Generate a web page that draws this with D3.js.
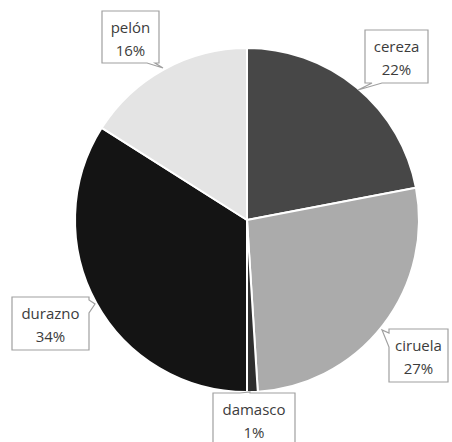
<!DOCTYPE html>
<html><head><meta charset="utf-8">
<script src="https://cdn.jsdelivr.net/npm/d3@7"></script>
<style>body{margin:0;background:#fff}svg{display:block}</style>
</head><body>
<script>
const categories = ["cereza","ciruela","damasco","durazno","pelón"];
const values = [22,27,1,34,16];
const labels = ["22%","27%","1%","34%","16%"];
const colors = ["#474747","#ababab","#2e2e2e","#141414","#e4e4e4"];

// callout layout: box x,y,w,h ; side where pointer attaches; two base points along side; tip
const callouts = [
  {x:365,y:30,w:63,h:53, side:"bottom", a:372, b:382, tip:[358,90]},
  {x:389,y:329,w:59,h:53, side:"left", a:333, b:347, tip:[382,330]},
  {x:213,y:393,w:82,h:60, side:"top", a:240, b:250, tip:[250,392]},
  {x:12,y:297,w:77,h:53, side:"right", a:300, b:313, tip:[95,304]},
  {x:102,y:11,w:57,h:52, side:"bottom", a:147, b:155, tip:[163,68]}
];

const W=452,H=442, cx=247, cy=220, R=172;
const svg=d3.select("body").append("svg").attr("width",W).attr("height",H);
const pie=d3.pie().sort(null).value(d=>d)(values);
const arc=d3.arc().innerRadius(0).outerRadius(R);
const g=svg.append("g").attr("transform",`translate(${cx},${cy})`);
g.selectAll("path").data(pie).join("path")
  .attr("d",arc).attr("fill",(d,i)=>colors[i])
  .attr("stroke","#fff").attr("stroke-width",2).attr("stroke-linejoin","round");

function calloutPath(c){
  const {x,y,w,h,side,a,b,tip}=c; const r=x+w, bt=y+h;
  const p=d3.path();
  p.moveTo(x,y);
  if(side==="top"){p.lineTo(a,y);p.lineTo(tip[0],tip[1]);p.lineTo(b,y);}
  p.lineTo(r,y);
  if(side==="right"){p.lineTo(r,a);p.lineTo(tip[0],tip[1]);p.lineTo(r,b);}
  p.lineTo(r,bt);
  if(side==="bottom"){p.lineTo(b,bt);p.lineTo(tip[0],tip[1]);p.lineTo(a,bt);}
  p.lineTo(x,bt);
  if(side==="left"){p.lineTo(x,b);p.lineTo(tip[0],tip[1]);p.lineTo(x,a);}
  p.closePath();
  return p.toString();
}
const lg=svg.append("g");
callouts.forEach((c,i)=>{
  lg.append("path").attr("d",calloutPath(c)).attr("fill","#fff")
    .attr("stroke","#a0a0a0").attr("stroke-width",1.2);
  const t=lg.append("text").attr("text-anchor","middle")
    .attr("font-family","'Open Sans','Noto Sans',sans-serif").attr("font-size",15)
    .attr("fill","#3c3c3c");
  const mx=c.x+c.w/2;
  t.append("tspan").attr("x",mx).attr("y",c.y+22).text(categories[i]);
  t.append("tspan").attr("x",mx).attr("y",c.y+45).text(labels[i]);
});
</script>
</body></html>
